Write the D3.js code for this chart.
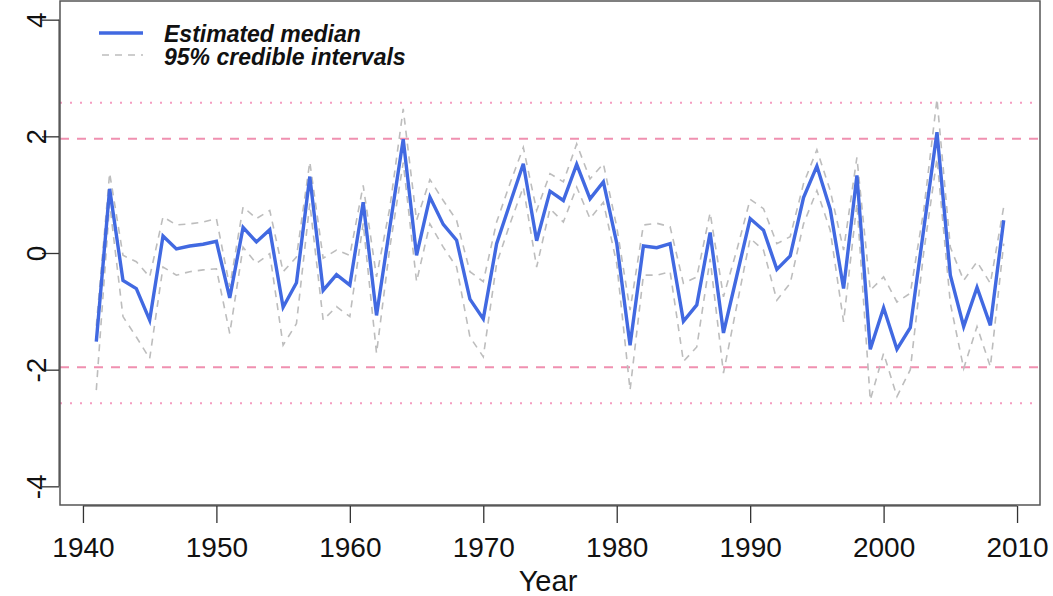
<!DOCTYPE html>
<html>
<head>
<meta charset="utf-8">
<script src="https://cdnjs.cloudflare.com/ajax/libs/d3/7.8.5/d3.min.js"></script>
<style>
  body { margin: 0; background: #fff; }
  text { font-family: "Liberation Sans", Arial, Helvetica, sans-serif; }
</style>
</head>
<body>
<div id="chart"></div>
<script>
var years = d3.range(1941, 2010);

var median = [-1.52, 1.10, -0.47, -0.61, -1.15, 0.29, 0.07, 0.12, 0.15, 0.20,
  -0.77, 0.44, 0.19, 0.40, -0.93, -0.51, 1.31, -0.64, -0.37, -0.55,
  0.87, -1.07, 0.45, 1.95, -0.04, 0.96, 0.49, 0.22, -0.79, -1.13,
  0.16, 0.85, 1.53, 0.21, 1.06, 0.90, 1.52, 0.93, 1.22, 0.17,
  -1.58, 0.12, 0.09, 0.16, -1.17, -0.89, 0.35, -1.37, -0.39, 0.59,
  0.39, -0.28, -0.05, 0.95, 1.49, 0.75, -0.61, 1.33, -1.65, -0.94,
  -1.65, -1.28, 0.40, 2.07, -0.38, -1.26, -0.59, -1.24, 0.56];

var upper = [-1.25, 1.37, -0.04, -0.15, -0.41, 0.62, 0.48, 0.50, 0.53, 0.59,
  -0.58, 0.79, 0.59, 0.73, -0.32, -0.07, 1.56, -0.09, 0.05, -0.04,
  1.16, -0.41, 0.78, 2.47, 0.56, 1.26, 0.90, 0.56, -0.32, -0.49,
  0.53, 1.19, 1.81, 0.73, 1.36, 1.22, 1.87, 1.27, 1.53, 0.45,
  -0.98, 0.48, 0.51, 0.45, -0.52, -0.41, 0.69, -0.75, 0.05, 0.92,
  0.76, 0.16, 0.28, 1.19, 1.77, 1.07, 0.05, 1.64, -0.64, -0.41,
  -0.84, -0.69, 0.72, 2.64, 0.10, -0.47, -0.15, -0.52, 0.79];

var lower = [-2.35, 0.85, -1.09, -1.44, -1.81, -0.24, -0.38, -0.32, -0.29, -0.27,
  -1.38, 0.10, -0.18, -0.01, -1.58, -1.21, 0.85, -1.15, -0.92, -1.09,
  0.51, -1.72, 0.10, 1.55, -0.49, 0.50, 0.10, -0.24, -1.44, -1.78,
  -0.18, 0.50, 1.13, -0.24, 0.76, 0.53, 1.13, 0.59, 0.87, -0.18,
  -2.35, -0.38, -0.38, -0.32, -1.86, -1.61, -0.10, -2.06, -0.90, 0.25,
  0.05, -0.81, -0.52, 0.50, 1.07, 0.39, -1.18, 0.85, -2.52, -1.72,
  -2.46, -2.00, 0.00, 1.62, -0.86, -1.98, -1.26, -1.95, 0.16];

var dashedRefs = [1.96, -1.96];
var dottedRefs = [2.576, -2.576];
var xTicks = [1940, 1950, 1960, 1970, 1980, 1990, 2000, 2010];
var yTicks = [-4, -2, 0, 2, 4];
var legendLabels = ["Estimated median", "95% credible intervals"];

var width = 1053, height = 596;
var box = {left: 60, right: 1040, top: 1, bottom: 505};

var x = d3.scaleLinear()
    .domain([1938.28, 2011.72])
    .range([box.left, box.right]);

var y = d3.scaleLinear()
    .domain([-4.32, 4.32])
    .range([box.bottom, box.top]);

var svg = d3.select("#chart")
    .append("svg")
    .attr("width", width)
    .attr("height", height);

// reference lines
svg.selectAll(".ref-dash")
    .data(dashedRefs)
    .enter()
    .append("line")
    .attr("x1", box.left).attr("x2", box.right)
    .attr("y1", (d) => y(d)).attr("y2", (d) => y(d))
    .attr("stroke", "#f090b0")
    .attr("stroke-width", 2)
    .attr("stroke-dasharray", "9,8");

svg.selectAll(".ref-dot")
    .data(dottedRefs)
    .enter()
    .append("line")
    .attr("x1", box.left).attr("x2", box.right)
    .attr("y1", (d) => y(d)).attr("y2", (d) => y(d))
    .attr("stroke", "#f59cc0")
    .attr("stroke-width", 2)
    .attr("stroke-dasharray", "2,8");

var line = (vals) => d3.line()
    .x((d, i) => x(years[i]))
    .y((d) => y(d))(vals);

svg.append("path")
    .attr("d", line(upper))
    .attr("fill", "none")
    .attr("stroke", "#bdbdbd")
    .attr("stroke-width", 1.6)
    .attr("stroke-dasharray", "7,6");

svg.append("path")
    .attr("d", line(lower))
    .attr("fill", "none")
    .attr("stroke", "#bdbdbd")
    .attr("stroke-width", 1.6)
    .attr("stroke-dasharray", "7,6");

svg.append("path")
    .attr("d", line(median))
    .attr("fill", "none")
    .attr("stroke", "#4169e1")
    .attr("stroke-width", 3.4)
    .attr("stroke-linejoin", "miter");

// box
svg.append("rect")
    .attr("x", box.left).attr("y", box.top)
    .attr("width", box.right - box.left)
    .attr("height", box.bottom - box.top)
    .attr("fill", "none")
    .attr("stroke", "#555")
    .attr("stroke-width", 1.5);

// x axis
var xAxis = svg.append("g")
    .attr("transform", "translate(0," + (box.bottom + 1) + ")")
    .call(d3.axisBottom(x).tickValues(xTicks).tickSize(17).tickPadding(14).tickFormat(d3.format("d")));
xAxis.select(".domain").attr("stroke", "#333").attr("d", "M" + x(1940) + ",0H" + x(2010));
xAxis.selectAll(".tick line").attr("stroke", "#333").attr("stroke-width", 1.3);
xAxis.selectAll("text").attr("font-size", "28px").attr("fill", "#111")
    .attr("font-family", "Liberation Sans, Arial, sans-serif");

// y axis
var yAxis = svg.append("g")
    .attr("transform", "translate(" + (box.left - 1) + ",0)")
    .call(d3.axisLeft(y).tickValues(yTicks).tickSize(17).tickFormat((d) => d));
yAxis.select(".domain").attr("stroke", "#333").attr("d", "M0," + y(-4) + "V" + y(4));
yAxis.selectAll(".tick line").attr("stroke", "#333").attr("stroke-width", 1.3);
yAxis.selectAll("text")
    .attr("x", null).attr("dy", null)
    .attr("text-anchor", "middle")
    .attr("transform", "translate(-13,0) rotate(-90)")
    .attr("font-size", "28px").attr("fill", "#111")
    .attr("font-family", "Liberation Sans, Arial, sans-serif");

svg.append("text")
    .attr("x", 548)
    .attr("y", 591)
    .attr("text-anchor", "middle")
    .attr("font-size", "29px")
    .attr("fill", "#111")
    .text("Year");

// legend
var legend = svg.append("g");
legend.append("line")
    .attr("x1", 99).attr("x2", 143).attr("y1", 33).attr("y2", 33)
    .attr("stroke", "#4169e1").attr("stroke-width", 3.4);
legend.append("line")
    .attr("x1", 99).attr("x2", 143).attr("y1", 55).attr("y2", 55)
    .attr("stroke", "#bdbdbd").attr("stroke-width", 1.6)
    .attr("stroke-dasharray", "7,6").attr("stroke-dashoffset", -3);
legend.selectAll(".leg-text")
    .data(legendLabels)
    .enter()
    .append("text")
    .attr("x", 164)
    .attr("y", (d, i) => 42 + i * 23)
    .attr("font-size", "23px")
    .attr("font-weight", "bold")
    .attr("font-style", "italic")
    .attr("fill", "#111")
    .text((d) => d);
</script>
</body>
</html>
